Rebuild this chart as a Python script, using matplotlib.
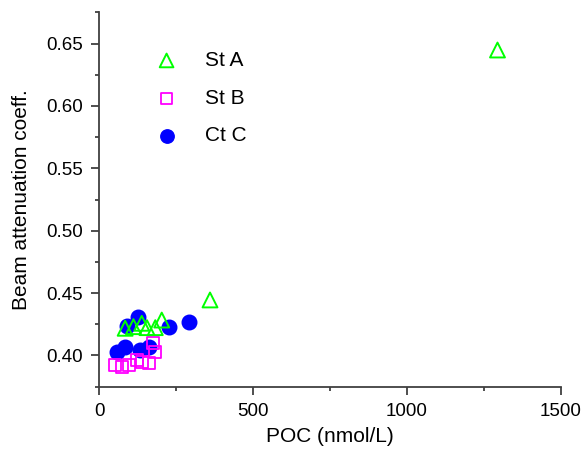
import matplotlib

matplotlib.use("Agg")
import matplotlib.pyplot as plt
from matplotlib.ticker import MultipleLocator

plt.rcParams["font.family"] = ["Liberation Sans", "DejaVu Sans"]

# St A
poc_a = [84, 111, 138, 155, 182, 203, 360, 1295]
bac_a = [0.4218, 0.4231, 0.4258, 0.4223, 0.4223, 0.4284, 0.4445, 0.6448]
# St B
poc_b = [52, 74, 95, 122, 138, 160, 176, 182]
bac_b = [0.3924, 0.3910, 0.3924, 0.3964, 0.3950, 0.3937, 0.4098, 0.4030]
# Ct C
poc_c = [57, 84, 91, 127, 133, 160, 225, 293]
bac_c = [0.4030, 0.4071, 0.4239, 0.4311, 0.4044, 0.4071, 0.4231, 0.4266]

fig = plt.figure(figsize=(5.87, 4.53), dpi=100)
ax = fig.add_axes([0.1692, 0.1464, 0.7857, 0.8264])

ax.scatter(poc_c, bac_c, s=110, marker="o", color="#0000ff", zorder=2, label="Ct C")
ax.scatter(poc_b, bac_b, s=75, marker="s", facecolors="none", edgecolors="#ff00ff",
           linewidths=1.3, zorder=3, label="St B")
ax.scatter(poc_a, bac_a, s=115, marker="^", facecolors="none", edgecolors="#00ff00",
           linewidths=1.4, zorder=4, label="St A")

ax.set_xlim(0, 1500)
ax.set_ylim(0.375, 0.675)
ax.xaxis.set_major_locator(MultipleLocator(500))
ax.xaxis.set_minor_locator(MultipleLocator(250))
ax.yaxis.set_major_locator(MultipleLocator(0.05))
ax.yaxis.set_minor_locator(MultipleLocator(0.025))
ax.yaxis.set_major_formatter(plt.FormatStrFormatter("%.2f"))

for side in ("top", "right"):
    ax.spines[side].set_visible(False)
for side in ("left", "bottom"):
    ax.spines[side].set_linewidth(1.3)
    ax.spines[side].set_color("#404040")
ax.tick_params(which="major", direction="out", length=6, width=1.3, color="#404040",
               labelsize=13.5, pad=5.5)
ax.tick_params(which="minor", direction="out", length=3, width=1.3, color="#404040")

ax.set_xlabel("POC (nmol/L)", fontsize=15, labelpad=5)
ax.set_ylabel("Beam attenuation coeff.", fontsize=15, labelpad=11)

handles, labels = ax.get_legend_handles_labels()
order = [2, 1, 0]
ax.legend([handles[i] for i in order], [labels[i] for i in order],
          loc="upper left", bbox_to_anchor=(0.06, 0.947), frameon=False,
          fontsize=15, labelspacing=0.9, handletextpad=0.85, markerscale=0.92)

fig.savefig("out.png")
